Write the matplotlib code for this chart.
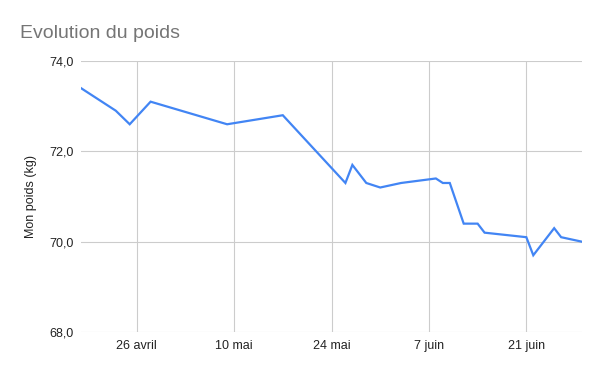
import datetime as dt
import matplotlib
matplotlib.use("Agg")
import matplotlib.pyplot as plt
import matplotlib.dates as mdates

# weight readings (kg)
dates = ["2020-04-18", "2020-04-23", "2020-04-25", "2020-04-28", "2020-05-09",
         "2020-05-17", "2020-05-26", "2020-05-27", "2020-05-29", "2020-05-31",
         "2020-06-03", "2020-06-08", "2020-06-09", "2020-06-10", "2020-06-12",
         "2020-06-14", "2020-06-15", "2020-06-21", "2020-06-22", "2020-06-25",
         "2020-06-26", "2020-06-29"]
poids = [73.4, 72.9, 72.6, 73.1, 72.6, 72.8, 71.3, 71.7, 71.3, 71.2,
         71.3, 71.4, 71.3, 71.3, 70.4, 70.4, 70.2, 70.1, 69.7, 70.3,
         70.1, 70.0]

tick_dates = ["2020-04-26", "2020-05-10", "2020-05-24", "2020-06-07", "2020-06-21"]
tick_labels = ["26 avril", "10 mai", "24 mai", "7 juin", "21 juin"]
y_ticks = [68, 70, 72, 74]

x = [dt.datetime.strptime(d, "%Y-%m-%d") for d in dates]
xt = [dt.datetime.strptime(d, "%Y-%m-%d") for d in tick_dates]

plt.rcParams["font.family"] = ["Liberation Sans", "DejaVu Sans"]

fig = plt.figure(figsize=(6, 3.71), dpi=100)
ax = fig.add_axes([0.135, 0.105, 0.835, 0.7305])

ax.plot(x, poids, color="#4285F4", linewidth=1.6, solid_joinstyle="miter")

ax.set_xlim(x[0], x[-1])
ax.set_ylim(68, 74)
ax.set_yticks(y_ticks)
ax.set_yticklabels([f"{v:.1f}".replace(".", ",") for v in y_ticks])
ax.set_xticks(mdates.date2num(xt))
ax.set_xticklabels(tick_labels)

ax.grid(True, color="#cccccc", linewidth=0.8)
ax.set_axisbelow(True)
ax.tick_params(length=0, labelsize=9, colors="#222222")
ax.tick_params(axis="y", pad=5)
ax.tick_params(axis="x", pad=6)
for s in ax.spines.values():
    s.set_visible(False)

ax.set_ylabel("Mon poids (kg)", fontsize=9, color="#222222", labelpad=9)
fig.text(0.033, 0.91, "Evolution du poids", fontsize=14, color="#757575",
         va="center", ha="left")

fig.savefig("out.png", dpi=100)
